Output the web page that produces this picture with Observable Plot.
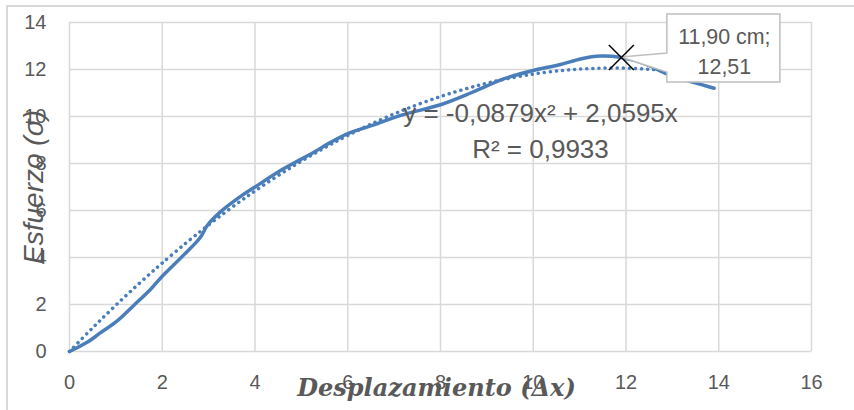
<!DOCTYPE html>
<html><head><meta charset="utf-8">
<script src="https://cdn.jsdelivr.net/npm/d3@7"></script>
<script src="https://cdn.jsdelivr.net/npm/@observablehq/plot@0.6"></script>
<style>
body{margin:0;background:#fff;}
#wrap{position:relative;width:854px;height:410px;overflow:hidden;}
#border{position:absolute;left:6px;top:5px;width:900px;height:500px;border-left:2px solid #d9d9d9;border-top:2px solid #d9d9d9;}
#chart{position:absolute;left:0;top:0;}
</style></head><body>
<div id="wrap"><div id="border"></div><div id="chart"></div></div>
<script>
// Desplazamiento (Δx) and Esfuerzo (σ)
const dispX  = [0, 0.39, 0.67, 1.03, 1.38, 1.75, 2.0, 2.46, 2.82, 2.97, 3.26, 3.69, 4.0, 4.55, 4.87, 5.26, 5.63, 6.0, 6.49, 7.2, 8.0, 8.65, 9.0, 9.36, 10.0, 10.59, 11.02, 11.45, 11.90, 12.38, 12.9, 13.46, 13.9];
const stress = [0, 0.4, 0.8, 1.3, 1.95, 2.65, 3.2, 4.1, 4.85, 5.36, 5.95, 6.6, 7.0, 7.7, 8.05, 8.47, 8.9, 9.27, 9.6, 10.08, 10.5, 11.0, 11.3, 11.6, 11.96, 12.21, 12.45, 12.57, 12.51, 12.26, 11.8, 11.45, 11.2];
// polynomial trendline shown on the chart: y = a x^2 + b x
const trendCoef = [-0.0879, 2.0595];
const eqLines = ["y = -0,0879x² + 2,0595x", "R² = 0,9933"];
const peak = [{x: 11.90, y: 12.51}];
const peakLabel = ["11,90 cm;", "12,51"];
const xTicks = [0, 2, 4, 6, 8, 10, 12, 14, 16];
const yTicks = [0, 2, 4, 6, 8, 10, 12, 14];
const xTitle = "Desplazamiento (Δx)";
const yTitle = "Esfuerzo (σ)";

const data = dispX.map((x, i) => ({x, y: stress[i]}));
const trend = dispX.map(x => ({x, y: trendCoef[0] * x * x + trendCoef[1] * x}));

const grey = "#595959";
const blue = "#4a7ebb";

function callout(index, scales) {
  const px = scales.x(peak[0].x), py = scales.y(peak[0].y);
  const bx = px + 46, by = py - 43, bw = 113, bh = 68;
  const g = d3.create("svg:g");
  g.append("path")
    .attr("d", `M${px},${py}L${bx},${py - 4}L${bx},${by}L${bx + bw},${by}L${bx + bw},${by + bh}L${bx},${by + bh}L${bx},${py + 15}Z`)
    .attr("fill", "white").attr("stroke", "#bfbfbf").attr("stroke-width", 1.5);
  return g.node();
}

const chart = Plot.plot({
  width: 854, height: 410,
  marginLeft: 69, marginRight: 43, marginTop: 22, marginBottom: 59,
  style: {fontFamily: "'Liberation Sans', Arial, sans-serif", fontSize: "20px", color: grey, background: "transparent"},
  x: {domain: [0, 16], axis: null},
  y: {domain: [0, 14], axis: null},
  marks: [
    Plot.ruleX(xTicks, {x: d => d, stroke: "#d9d9d9", strokeWidth: 1.5}),
    Plot.ruleY(yTicks, {y: d => d, stroke: "#d9d9d9", strokeWidth: 1.5}),
    Plot.text(yTicks, {y: d => d, frameAnchor: "left", dx: -23, text: d => String(d), textAnchor: "end", lineAnchor: "middle", fontSize: 20, fill: grey}),
    Plot.text(xTicks, {x: d => d, frameAnchor: "bottom", dy: 31, text: d => String(d), textAnchor: "middle", lineAnchor: "middle", fontSize: 20, fill: grey}),
    Plot.line(data, {x: "x", y: "y", stroke: blue, strokeWidth: 3.5, curve: "catmull-rom"}),
    Plot.line(trend, {x: "x", y: "y", stroke: blue, strokeWidth: 3.5, strokeDasharray: "0.1 6", strokeLinecap: "round", curve: "catmull-rom"}),
    Plot.text([eqLines.join("\n")], {frameAnchor: "top-left", dx: 471, dy: 106, text: d => d, fontSize: 26, lineHeight: 1.385, fill: grey, textAnchor: "middle", lineAnchor: "middle"}),
    callout,
    Plot.text(peak, {x: "x", y: "y", text: () => peakLabel.join("\n"), dx: 103, dy: -8, fontSize: 21.4, lineHeight: 1.38, fill: grey}),
    Plot.dot(peak, {x: "x", y: "y", symbol: "times", r: 11.4, stroke: "black", strokeWidth: 1.5}),
    Plot.text([yTitle], {frameAnchor: "left", dx: -35, rotate: -90, text: d => d, fontSize: 28, fontStyle: "italic", fill: grey, textAnchor: "middle", lineAnchor: "middle"}),
    Plot.text([xTitle], {frameAnchor: "bottom", dx: -4, dy: 37, text: d => d, fontSize: 24, fontWeight: "bold", fontStyle: "italic", fontFamily: "'DejaVu Serif', serif", fill: grey, textAnchor: "middle", lineAnchor: "middle"})
  ]
});
document.getElementById("chart").appendChild(chart);
</script>
</body></html>
